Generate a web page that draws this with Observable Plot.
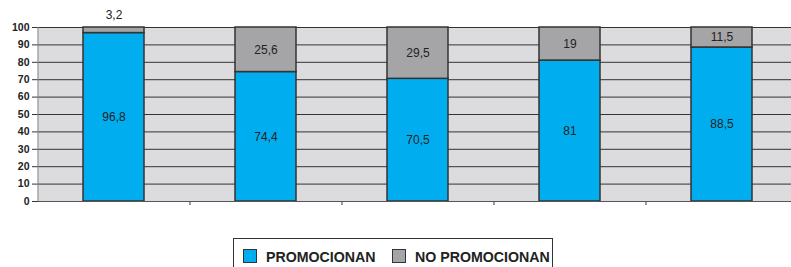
<!DOCTYPE html>
<html><head><meta charset="utf-8">
<script src="https://cdn.jsdelivr.net/npm/d3@7"></script>
<script src="https://cdn.jsdelivr.net/npm/@observablehq/plot@0.6"></script>
<style>
body{margin:0;background:#fff;font-family:"Liberation Sans",Arial,sans-serif;}
#wrap{position:relative;width:791px;height:267px;overflow:hidden;}
#legend{position:absolute;left:233px;top:238px;width:320px;height:40px;border:1px solid #333;box-sizing:border-box;background:#fff;}
.item{position:absolute;top:10px;font-weight:bold;font-size:14.2px;color:#222;white-space:nowrap;line-height:16px;}
.sw{display:inline-block;width:12px;height:12px;border:1px solid #333;vertical-align:-1px;margin-right:9px;}
</style></head>
<body><div id="wrap"><div id="chart"></div>
<div id="legend"></div></div>
<script>
const categories = ["1","2","3","4","5"];
const series = ["PROMOCIONAN","NO PROMOCIONAN"];
const promocionan = [96.8, 74.4, 70.5, 81, 88.5];
const noPromocionan = [3.2, 25.6, 29.5, 19, 11.5];
const yTicks = [0,10,20,30,40,50,60,70,80,90,100];
const colors = ["#00aeef", "#a5a5a7"];

const fmt = v => String(v).replace(".", ",");
const rows = [];
categories.forEach((c, i) => {
  rows.push({cat: c, series: series[0], value: promocionan[i], base: 0});
  rows.push({cat: c, series: series[1], value: noPromocionan[i], base: promocionan[i]});
});
const inside = rows.filter(d => d.value >= 5).map(d => ({...d, ly: d.base + d.value / 2}));
const above = rows.filter(d => d.value < 5).map(d => ({...d, ly: d.base + d.value}));

const chart = Plot.plot({
  width: 791, height: 225,
  marginLeft: 37, marginRight: -7, marginTop: 27, marginBottom: 24,
  style: {fontFamily: "'Liberation Sans', Arial, sans-serif", background: "transparent"},
  x: {domain: categories, paddingInner: 0.6, paddingOuter: 0.3, axis: null},
  y: {domain: [0, 100], axis: null},
  color: {domain: series, range: colors},
  marks: [
    Plot.frame({fill: "#dcdcde", stroke: null}),
    Plot.ruleY(yTicks, {stroke: "#333", strokeWidth: 1}),
    Plot.axisY(yTicks, {tickSize: 5, tickPadding: 3, fontWeight: "bold", fontSize: 10.5, stroke: "#333", color: "#222"}),
    Plot.ruleX([categories[0]], {x: d => d, dx: -76, y1: 0, y2: 100, stroke: "#888"}),
    Plot.ruleX(categories.slice(0, 4), {x: d => d, dx: 76, y1: 0, y2: -2.3, stroke: "#333"}),
    Plot.barY(rows, Plot.stackY({x: "cat", y: "value", fill: "series", z: "series", stroke: "#333", strokeWidth: 1.5})),
    Plot.ruleY([0], {stroke: "#555"}),
    Plot.text(inside, {x: "cat", y: "ly", text: d => fmt(d.value), fontSize: 12, fill: "#222"}),
    Plot.text(above, {x: "cat", y: "ly", text: d => fmt(d.value), fontSize: 12, fill: "#222", dy: -12})
  ]
});
document.getElementById("chart").appendChild(chart);

const legend = document.getElementById("legend");
const pos = [9, 158];
series.forEach((s, i) => {
  const el = document.createElement("div");
  el.className = "item";
  el.style.left = pos[i] + "px";
  el.innerHTML = `<span class="sw" style="background:${colors[i]}"></span>${s}`;
  legend.appendChild(el);
});
</script>
</body></html>
